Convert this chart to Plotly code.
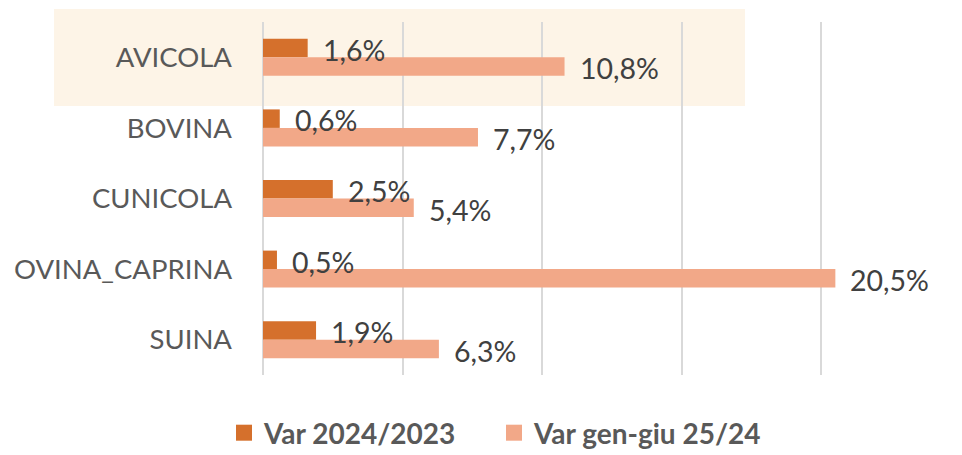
import plotly.graph_objects as go

categories = ["AVICOLA", "BOVINA", "CUNICOLA", "OVINA_CAPRINA", "SUINA"]
var_2024_2023 = [1.6, 0.6, 2.5, 0.5, 1.9]
var_gen_giu_25_24 = [10.8, 7.7, 5.4, 20.5, 6.3]
series_names = ["Var 2024/2023", "Var gen-giu 25/24"]

def fmt(v):
    return f"{v:.1f}".replace(".", ",") + "%"

W, H = 962, 455
L, R, T, B = 263, 1, 22, 80
pw, ph = W - L - R, H - T - B

fig = go.Figure()
colors = ["#D5702C", "#F2A888"]
for name, vals, col in zip(series_names, [var_2024_2023, var_gen_giu_25_24], colors):
    fig.add_trace(go.Bar(
        y=categories, x=vals, name=name, orientation="h",
        marker=dict(color=col, line=dict(width=0)),
        showlegend=False,
    ))
    # legend proxy with larger square symbol
    fig.add_trace(go.Scatter(
        x=[None], y=[None], mode="markers", name=name,
        marker=dict(symbol="square", size=18, color=col),
        showlegend=True,
    ))

# data labels on top of all bars
for vals, ys in zip([var_2024_2023, var_gen_giu_25_24], [7.5, -11]):
    for c, v in zip(categories, vals):
        fig.add_annotation(x=v, y=c, text=fmt(v), showarrow=False,
                           xanchor="left", yanchor="middle", xshift=13, yshift=ys,
                           font=dict(family="Lato", size=28.5, color="#404040"))

# highlight band behind AVICOLA row
fig.add_shape(type="rect", xref="paper", yref="paper",
              x0=(54 - L) / pw, x1=(745 - L) / pw,
              y0=(T + ph - 106) / ph, y1=(T + ph - 9) / ph,
              fillcolor="#FDF4E7", line=dict(width=0), layer="below")

fig.update_layout(
    width=W, height=H,
    margin=dict(l=L, r=R, t=T, b=B),
    barmode="group", bargap=0.476, bargroupgap=0,
    plot_bgcolor="rgba(0,0,0,0)", paper_bgcolor="white",
    font=dict(family="Lato", color="#595959"),
    xaxis=dict(range=[0, 25], dtick=5, showticklabels=False,
               showgrid=True, gridcolor="#D9D9D9", gridwidth=1.5,
               zeroline=True, zerolinecolor="#D9D9D9", zerolinewidth=1.5,
               showline=False, fixedrange=True),
    yaxis=dict(autorange="reversed", showgrid=False, showline=False,
               tickfont=dict(family="Lato", size=27.5, color="#595959"),
               ticklabelstandoff=30, fixedrange=True),
    legend=dict(orientation="h", xref="container", x=224 / W, xanchor="left",
                yref="container", y=(H - 433) / H, yanchor="middle",
                font=dict(family="Lato", size=28, color="#595959", weight="bold"),
                bgcolor="rgba(0,0,0,0)", traceorder="normal",
                entrywidth=225, entrywidthmode="pixels"),
    showlegend=True,
)

fig.write_html("out.html", config={"displayModeBar": False},
               post_script="document.body.style.margin='0';")
